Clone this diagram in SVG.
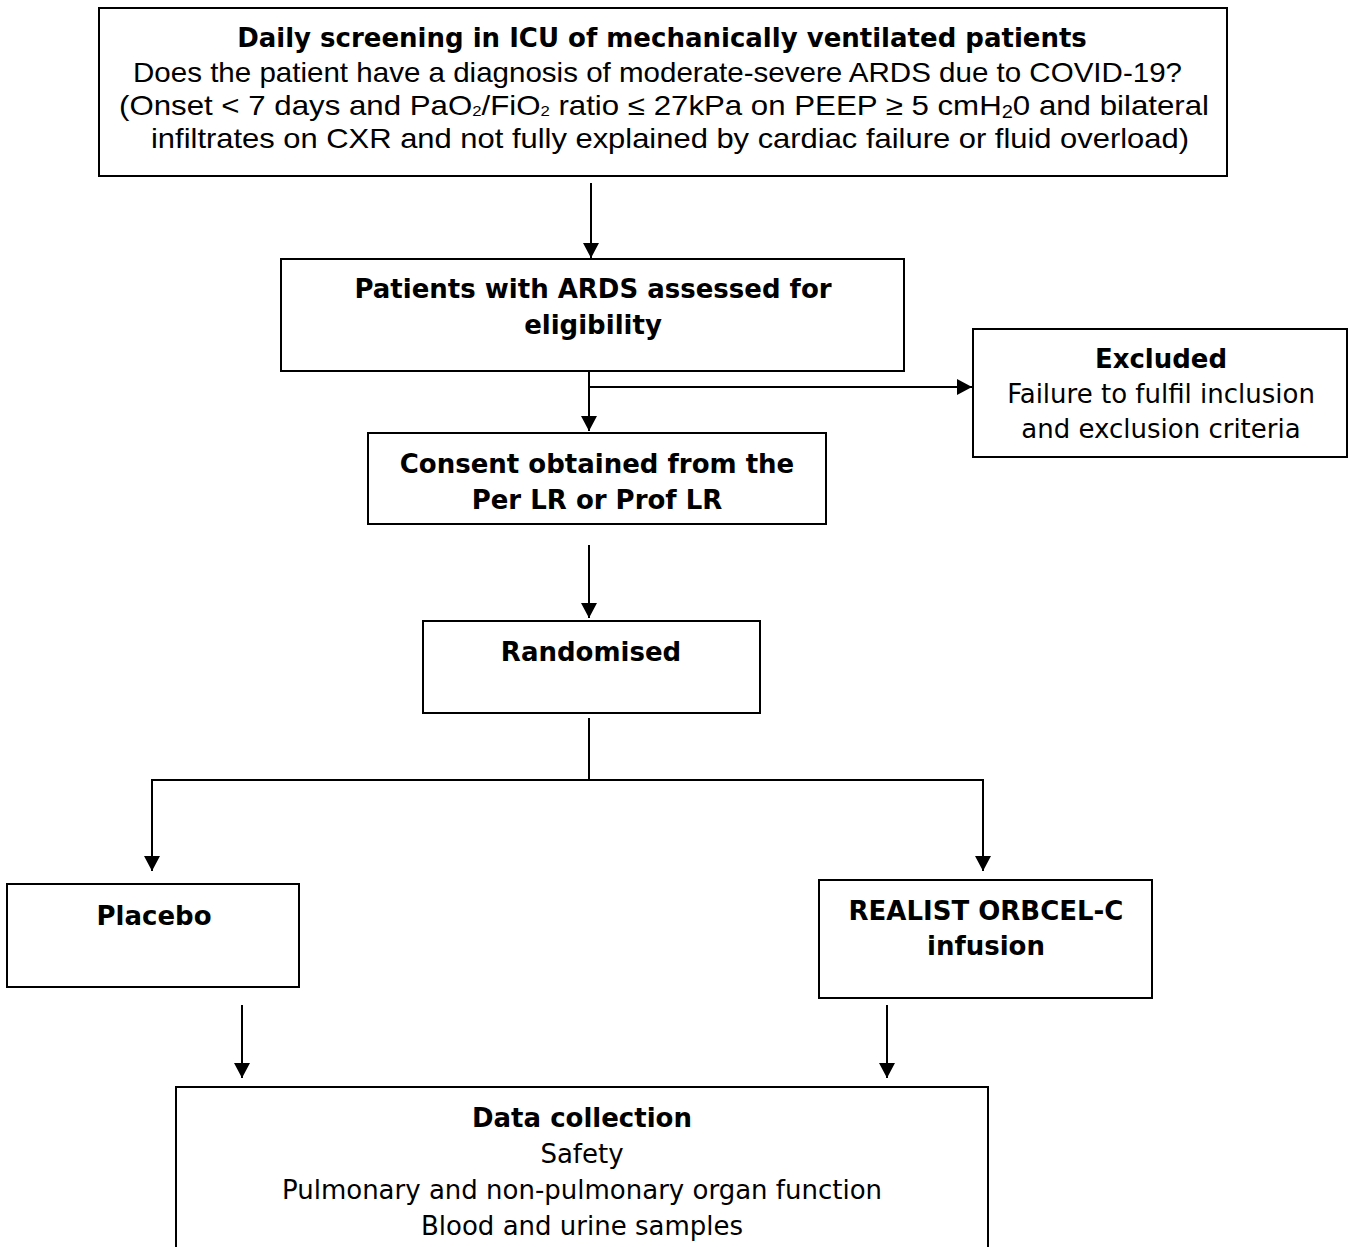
<svg xmlns="http://www.w3.org/2000/svg" width="1354" height="1247" viewBox="0 0 1354 1247">
<style>
.box{fill:#fff;stroke:#000;stroke-width:2}
.c{fill:none;stroke:#000;stroke-width:2}
.v{font-family:"DejaVu Sans","Verdana",sans-serif;font-size:26px;fill:#000;text-anchor:middle}
.b{font-weight:bold}
.a{font-family:"Liberation Sans",Arial,sans-serif;font-size:28px;fill:#000}
</style>
<defs>
<marker id="ah" markerUnits="userSpaceOnUse" markerWidth="16" markerHeight="16" refX="15" refY="8" orient="auto">
<path d="M0,0 L15,8 L0,16 z" fill="#000"/>
</marker>
</defs>
<rect width="1354" height="1247" fill="#fff"/>

<g id="connectors">
<line class="c" x1="591" y1="183" x2="591" y2="258" marker-end="url(#ah)"/>
<line class="c" x1="589" y1="371" x2="589" y2="431" marker-end="url(#ah)"/>
<line class="c" x1="589" y1="387" x2="972" y2="387" marker-end="url(#ah)"/>
<line class="c" x1="589" y1="545" x2="589" y2="618" marker-end="url(#ah)"/>
<polyline class="c" points="589,718 589,780"/>
<polyline class="c" points="152,871 152,780 983,780 983,871" marker-end="url(#ah)"/>
<line class="c" x1="152" y1="780" x2="152" y2="871" marker-end="url(#ah)"/>
<line class="c" x1="242" y1="1005" x2="242" y2="1078" marker-end="url(#ah)"/>
<line class="c" x1="887" y1="1005" x2="887" y2="1078" marker-end="url(#ah)"/>
</g>

<g id="screening">
<rect class="box" x="99" y="8" width="1128" height="168"/>
<text class="v b" x="662" y="47">Daily screening in ICU of mechanically ventilated patients</text>
<text class="a" x="133" y="82" textLength="1049" lengthAdjust="spacingAndGlyphs">Does the patient have a diagnosis of moderate-severe ARDS due to COVID-19?</text>
<text class="a" x="119" y="115" textLength="1090" lengthAdjust="spacingAndGlyphs">(Onset &lt; 7 days and PaO<tspan font-size="15" dy="1">2</tspan><tspan dy="-1">/FiO</tspan><tspan font-size="15" dy="1">2</tspan><tspan dy="-1"> ratio ≤ 27kPa on PEEP ≥ 5 cmH</tspan><tspan font-size="18" dy="3">2</tspan><tspan dy="-3">0 and bilateral</tspan></text>
<text class="a" x="151" y="148" textLength="1038" lengthAdjust="spacingAndGlyphs">infiltrates on CXR and not fully explained by cardiac failure or fluid overload)</text>
</g>

<g id="assessed">
<rect class="box" x="281" y="259" width="623" height="112"/>
<text class="v b" x="593" y="298">Patients with ARDS assessed for</text>
<text class="v b" x="593" y="334">eligibility</text>
</g>

<g id="excluded">
<rect class="box" x="973" y="329" width="374" height="128"/>
<text class="v b" x="1161" y="368">Excluded</text>
<text class="v" x="1161" y="403">Failure to fulfil inclusion</text>
<text class="v" x="1161" y="438">and exclusion criteria</text>
</g>

<g id="consent">
<rect class="box" x="368" y="433" width="458" height="91"/>
<text class="v b" x="597" y="473">Consent obtained from the</text>
<text class="v b" x="597" y="509">Per LR or Prof LR</text>
</g>

<g id="randomised">
<rect class="box" x="423" y="621" width="337" height="92"/>
<text class="v b" x="591" y="661">Randomised</text>
</g>

<g id="placebo">
<rect class="box" x="7" y="884" width="292" height="103"/>
<text class="v b" x="154" y="925">Placebo</text>
</g>

<g id="realist">
<rect class="box" x="819" y="880" width="333" height="118"/>
<text class="v b" x="986" y="920">REALIST ORBCEL-C</text>
<text class="v b" x="986" y="955">infusion</text>
</g>

<g id="data">
<rect class="box" x="176" y="1087" width="812" height="180"/>
<text class="v b" x="582" y="1127">Data collection</text>
<text class="v" x="582" y="1163">Safety</text>
<text class="v" x="582" y="1199">Pulmonary and non-pulmonary organ function</text>
<text class="v" x="582" y="1235">Blood and urine samples</text>
</g>
</svg>
